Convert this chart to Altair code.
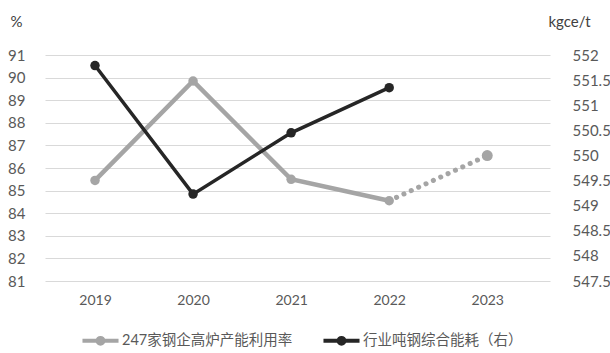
import altair as alt
import pandas as pd

years = [2019, 2020, 2021, 2022, 2023]
util = [85.45, 89.85, 85.5, 84.55, 86.55]          # left axis, %
energy = [551.79, 549.23, 550.45, 551.35]           # right axis, kgce/t (2019-2022)
name_util = "247家钢企高炉产能利用率"
name_energy = "行业吨钢综合能耗（右）"
left_ticks = list(range(81, 92))
right_ticks = [547.5, 548, 548.5, 549, 549.5, 550, 550.5, 551, 551.5, 552]

GRAY = "#a5a5a5"
BLACK = "#262626"
TXT = "#595959"
FONT = "Lato, Noto Sans CJK SC"

df_u = pd.DataFrame({"year": years[:4], "value": util[:4], "series": name_util})
df_up = pd.DataFrame({"year": years[3:], "value": util[3:]})
df_e = pd.DataFrame({"year": years[:4], "value": energy, "series": name_energy})

xenc = alt.X("year:Q", scale=alt.Scale(domain=[2018.49, 2023.64], nice=False, zero=False),
             axis=alt.Axis(values=years, format="d", title=None, grid=False, domain=False,
                           ticks=False, labelPadding=12, labelFontSize=14, labelColor=TXT,
                           labelFont=FONT))

color = alt.Color("series:N",
                  scale=alt.Scale(domain=[name_util, name_energy], range=[GRAY, BLACK]),
                  legend=alt.Legend(
                      title=None, orient="none", direction="horizontal",
                      legendX=35, legendY=265,
                      symbolType="M-1,0L1,0M-0.16,0A0.16,0.16 0 1,1 0.16,0A0.16,0.16 0 1,1 -0.16,0Z",
                      symbolSize=1300, symbolStrokeWidth=4,
                      labelFontSize=14.5, labelColor=TXT, labelFont=FONT, labelLimit=400,
                      columnPadding=22, labelOffset=1))

yleft = alt.Y("value:Q", scale=alt.Scale(domain=[81, 91], nice=False, zero=False),
              axis=alt.Axis(values=left_ticks, title="%", titleAngle=0, titleAlign="left",
                            titleBaseline="middle", titleX=-35, titleY=-34, titleFontSize=15,
                            titleFontWeight="normal", titleColor="#404040", titleFont=FONT,
                            grid=True, gridColor="#d9d9d9", gridWidth=1.2, domain=False,
                            ticks=False, labelPadding=20, labelFontSize=15, labelColor=TXT,
                            labelFont=FONT))

yright = alt.Y("value:Q", scale=alt.Scale(domain=[547.5, 552], nice=False, zero=False),
               axis=alt.Axis(orient="right", values=right_ticks, format="~g", title="kgce/t",
                             titleAngle=0, titleAlign="left", titleBaseline="middle", titleX=-2,
                             titleY=-34, titleFontSize=15, titleFontWeight="normal",
                             titleColor="#404040", titleFont=FONT, grid=False, domain=False,
                             ticks=False, labelPadding=22, labelFontSize=15, labelColor=TXT,
                             labelFont=FONT))

u_line = alt.Chart(df_u).mark_line(strokeWidth=4.5).encode(x=xenc, y=yleft, color=color)
u_pts = alt.Chart(df_u).mark_point(filled=True, size=90, opacity=1).encode(x=xenc, y=yleft, color=color)
u_proj = alt.Chart(df_up).mark_line(strokeWidth=5, strokeDash=[0.1, 8], strokeCap="round",
                                    color=GRAY).encode(x=xenc, y=yleft)
u_proj_pt = alt.Chart(df_up.iloc[1:]).mark_point(filled=True, size=120, opacity=1,
                                                 color=GRAY).encode(x=xenc, y=yleft)
left = alt.layer(u_line, u_proj, u_pts, u_proj_pt)

e_line = alt.Chart(df_e).mark_line(strokeWidth=3.5).encode(x=xenc, y=yright, color=color)
e_pts = alt.Chart(df_e).mark_point(filled=True, size=90, opacity=1).encode(x=xenc, y=yright, color=color)
right = alt.layer(e_line, e_pts)

chart = alt.layer(left, right).resolve_scale(y="independent").properties(
    width=505, height=226,
    autosize=alt.AutoSizeParams(type="none"),
    padding={"left": 45, "top": 55, "right": 60, "bottom": 72},
    background="white",
).configure_view(stroke=None)

chart.save("out.html", embed_options={"renderer": "svg", "actions": False})
